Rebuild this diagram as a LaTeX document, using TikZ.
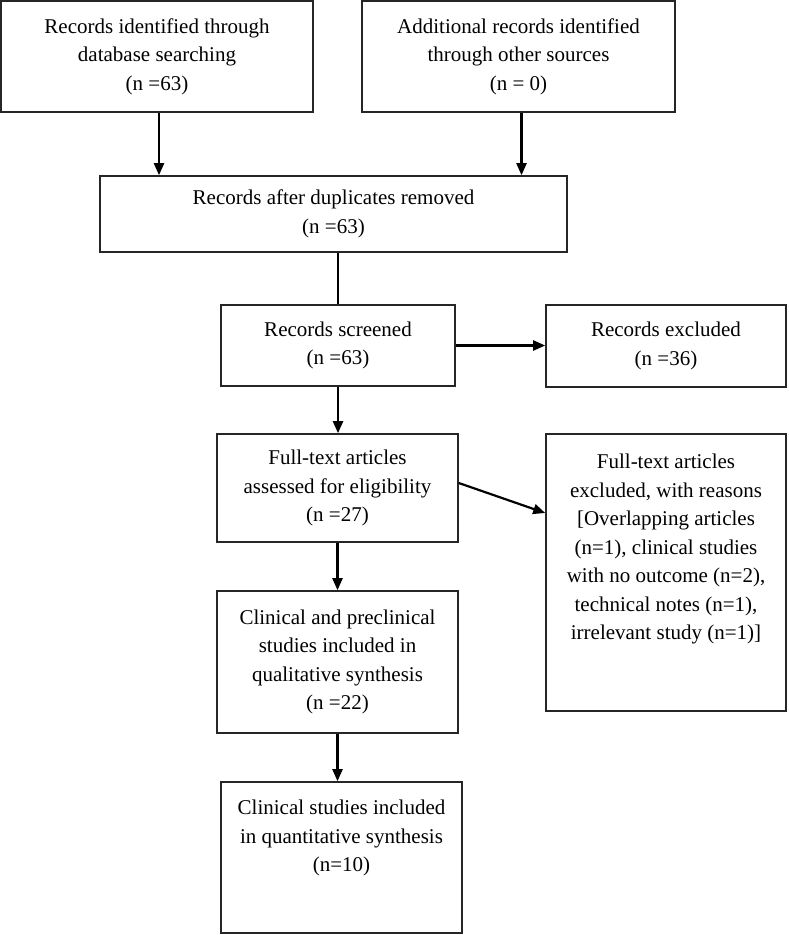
\documentclass[tikz,border=0pt]{standalone}
\usepackage{fontspec}
\setmainfont{Liberation Serif}
\usetikzlibrary{arrows.meta}
\begin{document}
\begin{tikzpicture}[x=1pt,y=-1pt,
  box/.style={draw=black!85, line width=1.6pt, rectangle, inner sep=0pt, align=center,
    font=\fontsize{21}{28.5}\selectfont},
  txt/.style={inner sep=0pt, align=center, font=\fontsize{21}{28.5}\selectfont},
  arr/.style={line width=2.2pt, -{Triangle[length=12pt,width=10pt]}},
  ln/.style={line width=2.2pt}]
\useasboundingbox (0,0) rectangle (788,935);
\node[box, minimum width=312pt, minimum height=111pt] (b1) at (157,56.5)
  {Records identified through\\database searching\\(n =63)};
\node[box, minimum width=313pt, minimum height=111pt] (b2) at (518.5,56.5)
  {Additional records identified\\through other sources\\(n = 0)};
\node[box, minimum width=467pt, minimum height=76pt] (b3) at (333.5,214)
  {Records after duplicates removed\\(n =63)};
\node[box, minimum width=234pt, minimum height=81pt] (b4) at (338,345.5)
  {Records screened\\(n =63)};
\node[box, minimum width=240pt, minimum height=82pt] (b5) at (666,346)
  {Records excluded\\(n =36)};
\node[box, minimum width=241pt, minimum height=108pt] (b6) at (337.5,488)
  {Full-text articles\\assessed for eligibility\\(n =27)};
\node[box, minimum width=240pt, minimum height=277pt] (b7) at (666,572.5) {};
\node[txt, anchor=north] (t7) at ([yshift=-21pt]b7.north)
  {Full-text articles\\excluded, with reasons\\{[}Overlapping articles\\(n=1), clinical studies\\with no outcome (n=2),\\technical notes (n=1),\\irrelevant study (n=1)]};
\node[box, minimum width=241pt, minimum height=142pt] (b8) at (337.5,662)
  {Clinical and preclinical\\studies included in\\qualitative synthesis\\(n =22)};
\node[box, minimum width=241pt, minimum height=151pt] (b9) at (341.5,857.5) {};
\node[txt, anchor=north] (t9) at ([yshift=-19pt]b9.north)
  {Clinical studies included\\in quantitative synthesis\\(n=10)};

\draw[arr] ([xshift=2pt]b1.south) -- ([xshift=2pt]b1.south |- b3.north);
\draw[arr] ([xshift=3pt]b2.south) -- ([xshift=3pt]b2.south |- b3.north);
\draw[ln] (b4.north |- b3.south) -- (b4.north);
\draw[arr] (b4.east) -- (b4.east -| b5.west);
\draw[arr] (b4.south) -- (b4.south |- b6.north);
\draw[arr] ([yshift=5pt]b6.east) -- ([yshift=59.5pt]b7.west);
\draw[arr] (b6.south) -- (b6.south |- b8.north);
\draw[arr] (b8.south) -- (b8.south |- b9.north);
\end{tikzpicture}
\end{document}
